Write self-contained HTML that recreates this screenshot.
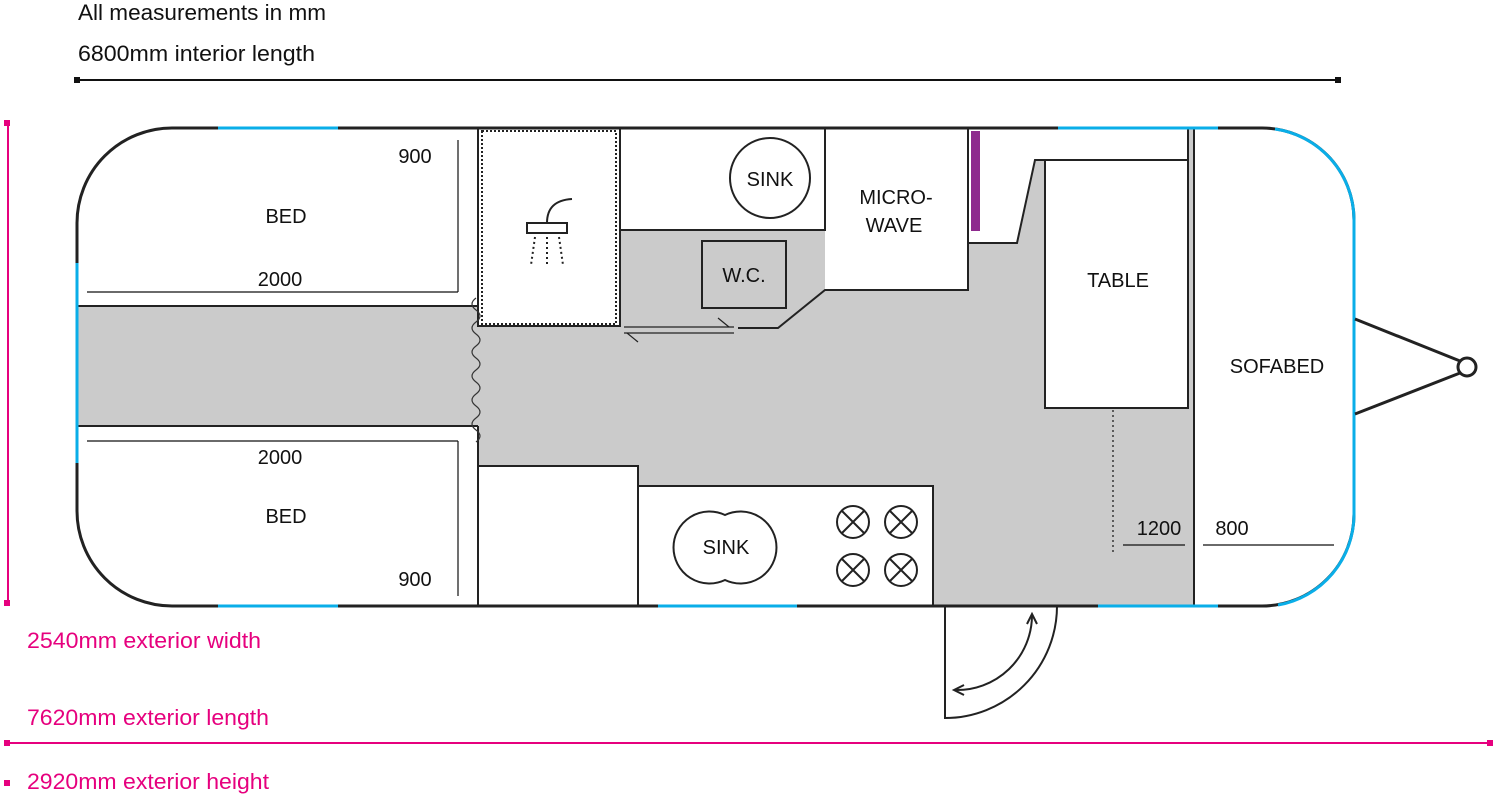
<!DOCTYPE html>
<html><head><meta charset="utf-8"><style>
html,body{margin:0;padding:0;background:#fff;width:1496px;height:796px;overflow:hidden}
svg{display:block}
text{font-family:"Liberation Sans",sans-serif;fill:#111}
</style></head><body>
<svg width="1496" height="796" viewBox="0 0 1496 796" xmlns="http://www.w3.org/2000/svg">
<text x="78" y="20" font-size="22.5" textLength="248" lengthAdjust="spacingAndGlyphs">All measurements in mm</text>
<text x="78" y="61" font-size="22.5" textLength="237" lengthAdjust="spacingAndGlyphs">6800mm interior length</text>
<line x1="77" y1="80" x2="1338" y2="80" stroke="#111" stroke-width="2"/>
<rect x="74" y="77" width="6" height="6" fill="#111"/><rect x="1335" y="77" width="6" height="6" fill="#111"/>

<rect x="77" y="230" width="1116" height="376" fill="#cbcbcb"/>
<rect x="77" y="128" width="401" height="178" fill="#fff"/>
<rect x="77" y="426" width="401" height="180" fill="#fff"/>
<rect x="478" y="128" width="142" height="198" fill="#fff"/>
<rect x="620" y="128" width="205" height="102" fill="#fff"/>
<polygon points="825,128 1193,128 1193,160 1035,160 1017,243 968,243 968,290 825,290" fill="#fff"/>
<polygon points="968,243 1017,243 1035,160 1193,160 1193,300 968,300" fill="#cbcbcb"/>
<rect x="1193" y="128" width="161" height="478" fill="#fff"/>
<rect x="1045" y="160" width="143" height="248" fill="#fff"/>
<rect x="478" y="466" width="160" height="140" fill="#fff"/>
<rect x="638" y="486" width="295" height="120" fill="#fff"/>
<path d="M77,128 L172,128 A95,95 0 0 0 77,223 Z" fill="#fff"/>
<path d="M77,606 L172,606 A95,95 0 0 1 77,511 Z" fill="#fff"/>

<rect x="1188" y="128" width="6" height="478" fill="#cbcbcb"/>
<g fill="none" stroke="#222" stroke-width="2">
<line x1="77" y1="306" x2="478" y2="306"/>
<line x1="77" y1="426" x2="478" y2="426"/>
<line x1="478" y1="426" x2="478" y2="606"/>
<path d="M478,128 V326 H620 V128"/>
<path d="M620,230 H825 V128"/>
<rect x="702" y="241" width="84" height="67"/>
<path d="M738,328 H778 L825,290 H968 V128"/>
<path d="M968,243 H1017 L1035,160 H1188"/>
<rect x="1045" y="160" width="143" height="248"/>
<line x1="1188" y1="128" x2="1188" y2="408"/>
<line x1="1194" y1="128" x2="1194" y2="606"/>
<path d="M478,606 V466 H638 V606"/>
<path d="M638,486 H933 V606"/>
<path d="M945,606 V718 A112,112 0 0 0 1057,606"/>
</g>
<rect x="482" y="131" width="134" height="193" fill="none" stroke="#222" stroke-width="2" stroke-dasharray="2,2"/>
<rect x="527" y="223" width="40" height="10" fill="none" stroke="#222" stroke-width="2"/>
<path d="M547,223 C547,208 555,200 572,199" fill="none" stroke="#222" stroke-width="2"/>
<g stroke="#222" stroke-width="2" stroke-dasharray="2,3"><line x1="535" y1="237" x2="531" y2="265"/><line x1="547" y1="237" x2="547" y2="265"/><line x1="559" y1="237" x2="563" y2="265"/></g>
<g stroke="#222" stroke-width="1.2" fill="none">
<line x1="624" y1="327" x2="734" y2="327"/><line x1="624" y1="333" x2="734" y2="333"/>
<line x1="718" y1="318" x2="729" y2="327"/><line x1="627" y1="333" x2="638" y2="342"/>
</g>
<rect x="971" y="131" width="9" height="100" fill="#8e2a8e"/>
<circle cx="770" cy="178" r="40" fill="#fff" stroke="#222" stroke-width="2"/>
<path d="M725,515 A36,36 0 1 0 725,580 A36,36 0 1 0 725,515 Z" fill="#fff" stroke="#222" stroke-width="2"/>
<g fill="none" stroke="#222" stroke-width="2">
<circle cx="853" cy="522" r="16"/><circle cx="901" cy="522" r="16"/><circle cx="853" cy="570" r="16"/><circle cx="901" cy="570" r="16"/>
<path d="M842,511 l22,22 M864,511 l-22,22 M890,511 l22,22 M912,511 l-22,22 M842,559 l22,22 M864,559 l-22,22 M890,559 l22,22 M912,559 l-22,22"/>
</g>
<path d="M476,298 q-8,6 0,12 q8,6 0,12 q-8,6 0,12 q8,6 0,12 q-8,6 0,12 q8,6 0,12 q-8,6 0,12 q8,6 0,12 q-8,6 0,12 q8,6 0,12 q-8,6 0,12 q8,6 0,12" fill="none" stroke="#333" stroke-width="1.2"/>
<path d="M172,128 H1262 A92,92 0 0 1 1354,220 V514 A92,92 0 0 1 1262,606 H172 A95,95 0 0 1 77,511 V223 A95,95 0 0 1 172,128 Z" fill="none" stroke="#222" stroke-width="3"/>
<g fill="none" stroke="#0aaee8" stroke-width="3">
<line x1="218" y1="128" x2="338" y2="128"/>
<line x1="218" y1="606" x2="338" y2="606"/>
<line x1="1058" y1="128" x2="1218" y2="128"/>
<line x1="658" y1="606" x2="797" y2="606"/>
<line x1="1098" y1="606" x2="1218" y2="606"/>
<line x1="77" y1="263" x2="77" y2="463"/>
<path d="M1275,129 A92,92 0 0 1 1354,220 V514 A92,92 0 0 1 1278,605"/>
</g>
<g stroke="#222" stroke-width="3" fill="#fff">
<line x1="1355" y1="319" x2="1460" y2="361"/><line x1="1355" y1="414" x2="1460" y2="373"/>
<circle cx="1467" cy="367" r="9"/>
</g>
<path d="M1032,616 A75,75 0 0 1 955,690" fill="none" stroke="#222" stroke-width="2"/>
<path d="M1027,624 L1032,614 L1037,624 M964,685 L954,690 L964,695" fill="none" stroke="#222" stroke-width="2"/>
<g stroke="#111" stroke-width="1.2" fill="none">
<line x1="87" y1="292" x2="458" y2="292"/><line x1="458" y1="140" x2="458" y2="292"/>
<line x1="87" y1="441" x2="458" y2="441"/><line x1="458" y1="441" x2="458" y2="596"/>
<line x1="1123" y1="545" x2="1185" y2="545"/><line x1="1203" y1="545" x2="1334" y2="545"/>
<line x1="1113" y1="410" x2="1113" y2="555" stroke-dasharray="2,3"/>
</g>
<g font-size="20" text-anchor="middle">
<text x="415" y="163">900</text><text x="286" y="223">BED</text><text x="280" y="286">2000</text>
<text x="280" y="464">2000</text><text x="286" y="523">BED</text><text x="415" y="586">900</text>
<text x="770" y="186">SINK</text><text x="896" y="204">MICRO-</text><text x="894" y="232">WAVE</text>
<text x="744" y="282">W.C.</text><text x="1118" y="287">TABLE</text><text x="1277" y="373">SOFABED</text>
<text x="726" y="554">SINK</text><text x="1159" y="535">1200</text><text x="1232" y="535">800</text>
</g>
<g fill="#e6007e">
<rect x="4" y="120" width="6" height="6"/><rect x="4" y="600" width="6" height="6"/><rect x="7" y="122" width="2" height="482"/>
<rect x="4" y="740" width="6" height="6"/><rect x="1487" y="740" width="6" height="6"/><rect x="7" y="742" width="1483" height="2"/>
<rect x="4" y="780" width="6" height="6"/>
</g>
<g font-size="22.5">
<text x="27" y="648" style="fill:#e6007e" textLength="234" lengthAdjust="spacingAndGlyphs">2540mm exterior width</text>
<text x="27" y="725" style="fill:#e6007e" textLength="242" lengthAdjust="spacingAndGlyphs">7620mm exterior length</text>
<text x="27" y="789" style="fill:#e6007e" textLength="242" lengthAdjust="spacingAndGlyphs">2920mm exterior height</text>
</g>
</svg>
</body></html>
